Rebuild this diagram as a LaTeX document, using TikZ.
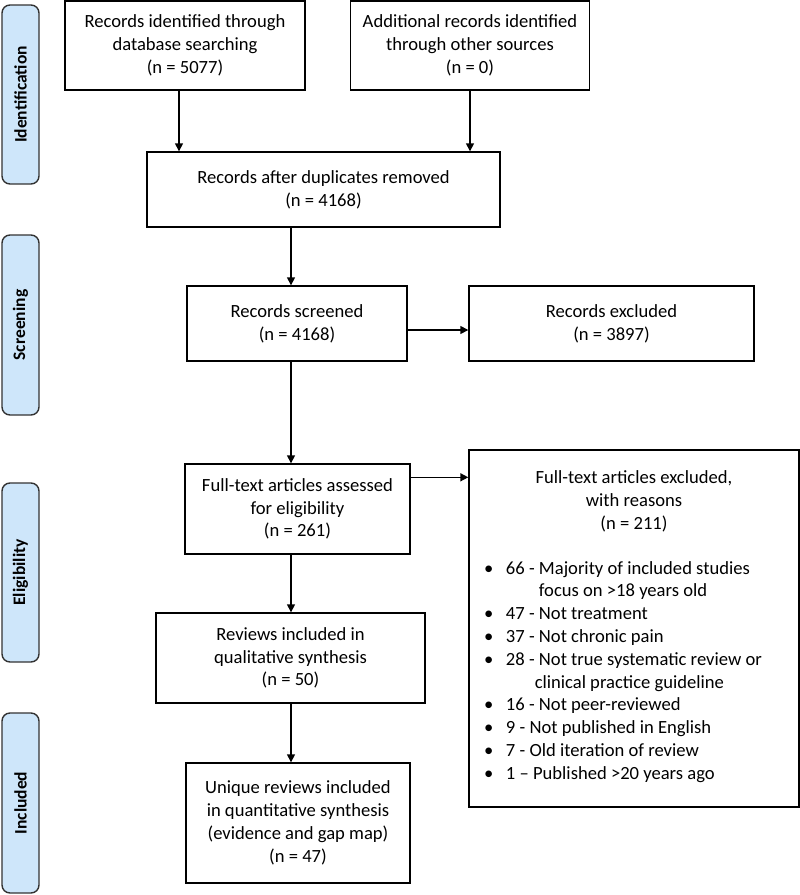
\documentclass[tikz,border=0pt]{standalone}
\usepackage{fontspec}
\setmainfont{Carlito}
\usetikzlibrary{arrows.meta}
\definecolor{phaseblue}{RGB}{206,230,250}

\begin{document}
\begin{tikzpicture}[x=1pt, y=-1pt,
  every node/.style = {font=\fontsize{18.6}{22.8}\selectfont},
  box/.style = {shape=rectangle, draw, line width=1.4pt, align=center, inner sep=0pt},
  phase/.style = {shape=rectangle, rounded corners=8pt, draw=black!80,
    line width=1.4pt, fill=phaseblue, rotate=90, minimum height=37pt,
    font=\fontsize{17.5}{20}\selectfont\bfseries},
  arr/.style = {line width=1.5pt, -{Triangle[length=8pt,width=8pt]}}]
  \useasboundingbox (0,0) rectangle (800,895);

  % phases on the left
  \node[phase, minimum width=179pt] (pident) at (20.5,94.5) {Identification};
  \node[phase, minimum width=180pt] (pscreen) at (20.5,325) {Screening};
  \node[phase, minimum width=179pt] (pelig) at (20.5,572.5) {Eligibility};
  \node[phase, minimum width=180pt] (pincl) at (20.5,803) {Included};

  % boxes
  \node[box, minimum width=240pt, minimum height=89pt] (ident) at (185,45.5)
    {Records identified through\\database searching\\(n = 5077)};
  \node[box, minimum width=239pt, minimum height=89pt] (other) at (470,45.5)
    {Additional records identified\\through other sources\\(n = 0)};
  \node[box, minimum width=353pt, minimum height=75pt] (dedup) at (323.5,189.5)
    {Records after duplicates removed\\(n = 4168)};
  \node[box, minimum width=220pt, minimum height=75pt] (screened) at (297,323.5)
    {Records screened\\(n = 4168)};
  \node[box, minimum width=285pt, minimum height=75pt] (excluded) at (611.5,323.5)
    {Records excluded\\(n = 3897)};
  \node[box, minimum width=225pt, minimum height=90pt] (fulltext) at (297.5,509)
    {Full-text articles assessed\\for eligibility\\(n = 261)};
  \node[box, minimum width=330pt, minimum height=357pt, text width=310pt,
    align=flush center] (ftexcl) at (634,628.5) {%
    Full-text articles excluded,\\with reasons\\(n = 211)\par\vspace{22pt}
    \makebox[\linewidth][l]{\hspace*{5pt}\begin{tabular}[t]{@{}p{22pt}@{}l@{}}
      \textbullet & 66 - Majority of included studies\\
        & \phantom{66 - }focus on >18 years old\\
      \textbullet & 47 - Not treatment\\
      \textbullet & 37 - Not chronic pain\\
      \textbullet & 28 - Not true systematic review or\\
        & \phantom{28 -}clinical practice guideline\\
      \textbullet & 16 - Not peer-reviewed\\
      \textbullet & 9 - Not published in English\\
      \textbullet & 7 - Old iteration of review\\
      \textbullet & 1 -- Published >20 years ago
    \end{tabular}}\par\vspace{16pt}};
  \node[box, minimum width=269pt, minimum height=90pt] (qual) at (290.5,658)
    {Reviews included in\\qualitative synthesis\\(n = 50)};
  \node[box, minimum width=224pt, minimum height=120pt] (quant) at (298,823)
    {Unique reviews included\\in quantitative synthesis\\(evidence and gap map)\\(n = 47)};

  % connectors
  \coordinate (spine) at (291,0);
  \draw[arr] ([xshift=-6pt]ident.south) -- ([xshift=-6pt]ident.south |- dedup.north);
  \draw[arr] (other.south) -- (other.south |- dedup.north);
  \draw[arr] (dedup.south -| spine) -- (screened.north -| spine);
  \draw[arr] ([yshift=-6.5pt]screened.east) -- ([yshift=-6.5pt]screened.east -| excluded.west);
  \draw[arr] (screened.south -| spine) -- (fulltext.north -| spine);
  \draw[arr] ([yshift=-14pt]fulltext.north east) -- ([yshift=-14pt]fulltext.north east -| ftexcl.west);
  \draw[arr] (fulltext.south -| spine) -- (qual.north -| spine);
  \draw[arr] (qual.south -| spine) -- (quant.north -| spine);
\end{tikzpicture}
\end{document}
